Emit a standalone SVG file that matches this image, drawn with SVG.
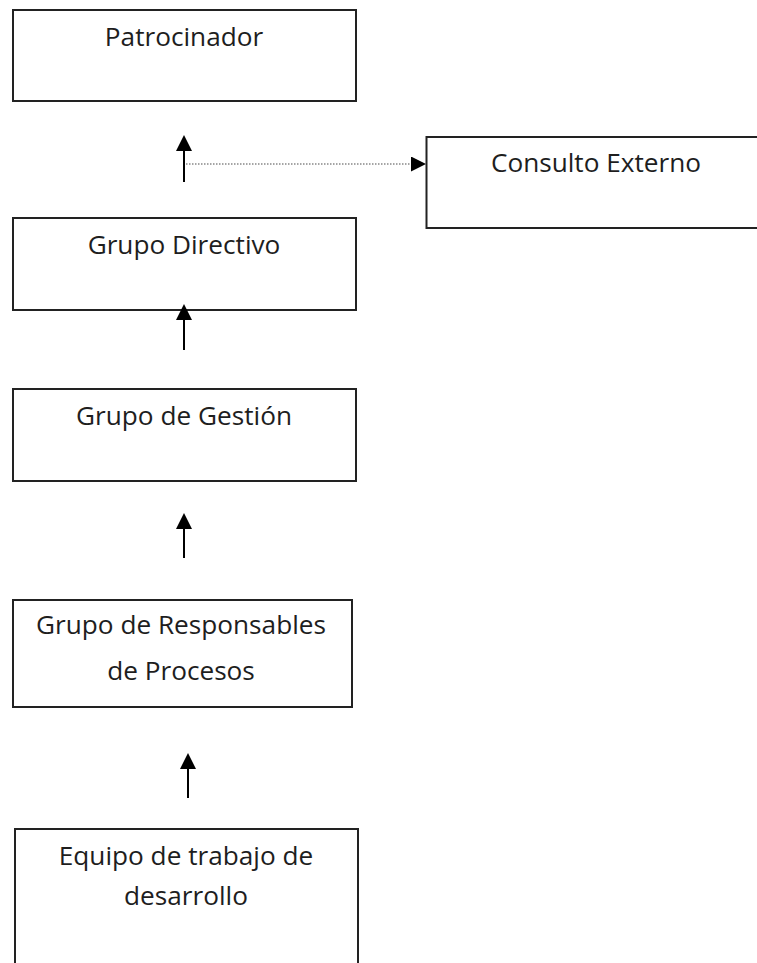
<svg xmlns="http://www.w3.org/2000/svg" width="757" height="963" viewBox="0 0 757 963">
<style>
.box{fill:#fff;stroke:#222;stroke-width:2}
.lbl{font-family:"Open Sans","Noto Sans","DejaVu Sans",sans-serif;font-size:26.2px;fill:#1e1e1e;text-anchor:middle}
.arr{stroke:#000;stroke-width:2;fill:none}
.dot{stroke:#888;stroke-width:1.5;stroke-dasharray:1.5,1.5;fill:none}
</style>
<defs>
<marker id="ah" markerUnits="userSpaceOnUse" markerWidth="16" markerHeight="16" refX="0" refY="8" orient="auto">
<path d="M0,0 L16,8 L0,16 z" fill="#000"/>
</marker>
<marker id="ah2" markerUnits="userSpaceOnUse" markerWidth="15" markerHeight="15" refX="0" refY="7.5" orient="auto">
<path d="M0,0 L15,7.5 L0,15 z" fill="#000"/>
</marker>
</defs>
<rect width="757" height="963" fill="#fff"/>
<g id="patrocinador">
<rect class="box" x="13" y="10" width="343" height="91"/>
<text class="lbl" x="184" y="46">Patrocinador</text>
</g>
<g id="consulto-externo">
<rect class="box" x="426.5" y="137" width="340" height="91"/>
<text class="lbl" x="596" y="172">Consulto Externo</text>
</g>
<g id="grupo-directivo">
<rect class="box" x="13" y="218" width="343" height="92"/>
<text class="lbl" x="184" y="254">Grupo Directivo</text>
</g>
<g id="grupo-gestion">
<rect class="box" x="13" y="389" width="343" height="92"/>
<text class="lbl" x="184" y="425">Grupo de Gestión</text>
</g>
<g id="grupo-responsables">
<rect class="box" x="13" y="600" width="339" height="107"/>
<text class="lbl" x="181" y="634">Grupo de Responsables</text>
<text class="lbl" x="181" y="680">de Procesos</text>
</g>
<g id="equipo-trabajo">
<rect class="box" x="15" y="829" width="343" height="150"/>
<text class="lbl" x="186" y="865">Equipo de trabajo de</text>
<text class="lbl" x="186" y="905">desarrollo</text>
</g>
<g id="connectors">
<line class="arr" x1="184" y1="182" x2="184" y2="151" marker-end="url(#ah)"/>
<line class="dot" x1="186" y1="164" x2="411" y2="164" marker-end="url(#ah2)"/>
<line class="arr" x1="184" y1="350" x2="184" y2="320" marker-end="url(#ah)"/>
<line class="arr" x1="184" y1="558" x2="184" y2="529" marker-end="url(#ah)"/>
<line class="arr" x1="188" y1="798" x2="188" y2="769" marker-end="url(#ah)"/>
</g>
</svg>
